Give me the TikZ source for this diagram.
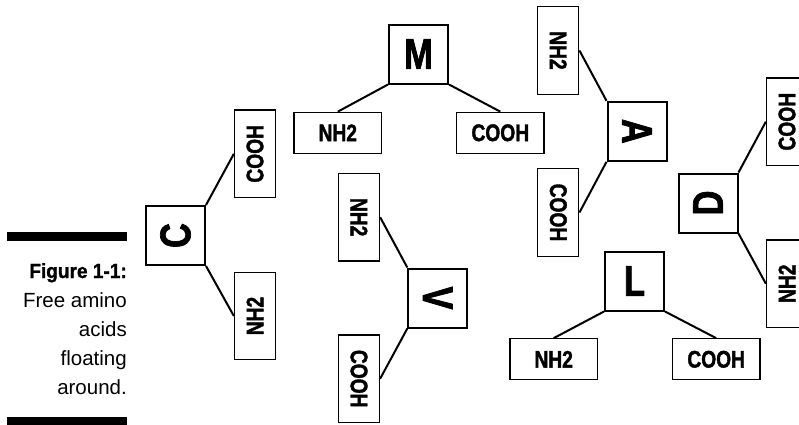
\documentclass[tikz,border=0pt]{standalone}
\usepackage{fontspec}
\setmainfont{Liberation Sans}
\newfontfamily\boxfont{Liberation Sans}[FakeStretch=0.8,FakeBold=1.6]
\newfontfamily\capfont{Liberation Sans}[BoldFeatures={FakeStretch=0.93,FakeBold=1.2}]
\begin{document}
\begin{tikzpicture}[x=1pt,y=-1pt,
  aa/.style={draw, line width=2pt, minimum size=59pt, inner sep=0pt,
    font=\boxfont\bfseries\fontsize{43}{43}\selectfont},
  grp/.style={draw, line width=1.3pt, minimum width=87.5pt, minimum height=41pt, inner sep=0pt,
    font=\boxfont\bfseries\fontsize{24}{24}\selectfont},
  bond/.style={line width=2pt},
  capl/.style={anchor=base east, inner sep=0pt, font=\capfont\fontsize{20.5}{29}\selectfont},
  bar/.style={fill=black}]
\clip (0,0) rectangle (799,424);
% M
\node[aa] (M) at (418.5,54) {M};
\node[grp] (Mn) at (337.8,132.8) {NH2};
\node[grp] (Mc) at (500.3,132.8) {COOH};
\draw[bond] (M.south west) -- (Mn.north);
\draw[bond] (M.south east) -- (Mc.north);
% C
\node[aa,rotate=90] (C) at (175.5,235.5) {C};
\node[grp,rotate=90] (Cn) at (255,316) {NH2};
\node[grp,rotate=90] (Cc) at (255,153.8) {COOH};
\draw[bond] (C.south west) -- (Cn.north);
\draw[bond] (C.south east) -- (Cc.north);
% V
\node[aa,rotate=-90] (V) at (437.8,298) {V};
\node[grp,rotate=-90] (Vn) at (359,217.2) {NH2};
\node[grp,rotate=-90] (Vc) at (359,378.7) {COOH};
\draw[bond] (V.south west) -- (Vn.north);
\draw[bond] (V.south east) -- (Vc.north);
% A
\node[aa,rotate=-90] (A) at (637,131.3) {A};
\node[grp,rotate=-90] (An) at (558.3,50.5) {NH2};
\node[grp,rotate=-90] (Ac) at (558.3,212.5) {COOH};
\draw[bond] (A.south west) -- (An.north);
\draw[bond] (A.south east) -- (Ac.north);
% D
\node[aa,rotate=90] (D) at (708,203) {D};
\node[grp,rotate=90] (Dn) at (787,283.7) {NH2};
\node[grp,rotate=90] (Dc) at (787,121.7) {COOH};
\draw[bond] (D.south west) -- (Dn.north);
\draw[bond] (D.south east) -- (Dc.north);
% L
\node[aa] (L) at (634.5,281) {L};
\node[grp] (Ln) at (553.7,359.3) {NH2};
\node[grp] (Lc) at (716.2,359.3) {COOH};
\draw[bond] (L.south west) -- (Ln.north);
\draw[bond] (L.south east) -- (Lc.north);
% caption
\fill[bar] (7,232) rectangle (127,241);
\fill[bar] (7,417) rectangle (127,426);
\node[capl] (cap1) at (127,278) {\bfseries Figure 1-1:};
\node[capl] (cap2) at (127,307) {Free amino};
\node[capl] (cap3) at (127,336) {acids};
\node[capl] (cap4) at (127,365) {floating};
\node[capl] (cap5) at (127,394) {around.};
\end{tikzpicture}
\end{document}
